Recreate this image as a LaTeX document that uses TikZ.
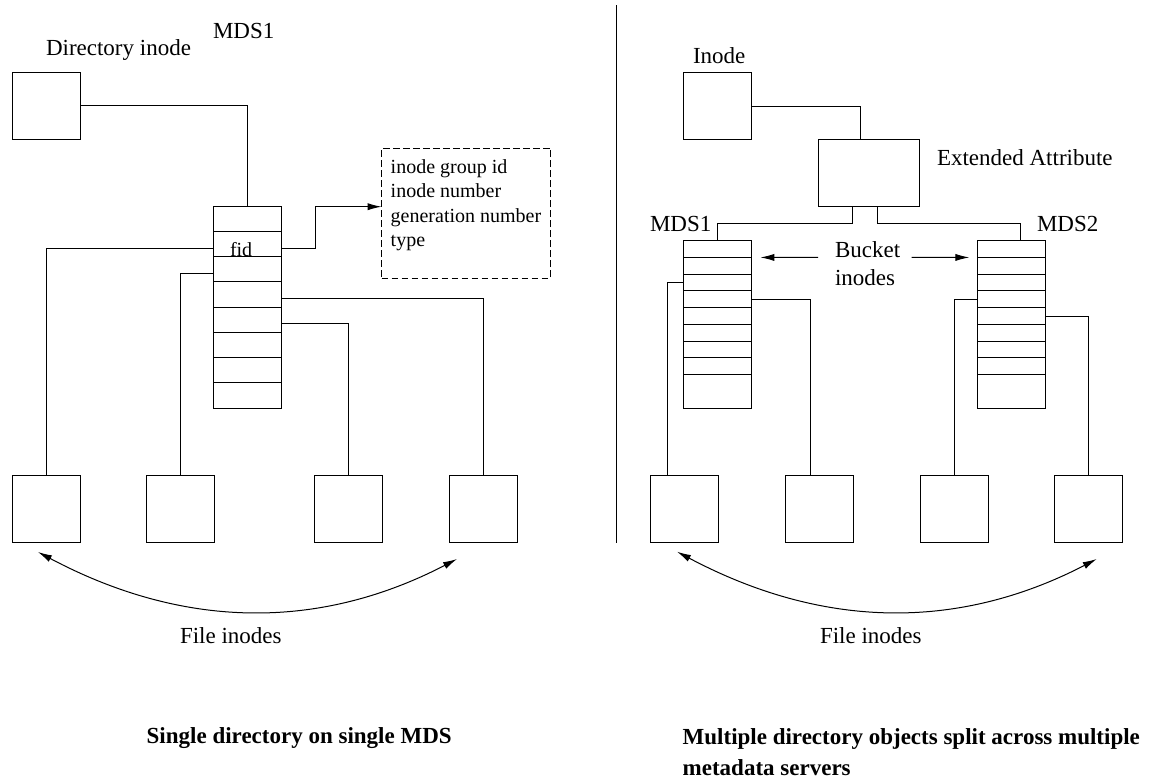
\documentclass[tikz,border=0pt]{standalone}
\usepackage{fontspec}
\setmainfont{Liberation Serif}
\usetikzlibrary{arrows.meta}
\begin{document}
\begin{tikzpicture}[x=0.5pt,y=-0.5pt, line width=0.5pt,
  every node/.style={font=\fontsize{11.5}{14}\selectfont, inner sep=0pt, outer sep=0pt},
  box/.style={draw, minimum width=34pt, minimum height=33.5pt},
  eabox/.style={draw, minimum width=50.3pt, minimum height=33.7pt},
  lrow/.style={draw, minimum width=34pt, minimum height=12.625pt},
  rrow/.style={draw, minimum width=34pt, minimum height=8.375pt},
  rlast/.style={draw, minimum width=34pt, minimum height=16.8pt},
  infobox/.style={draw, dashed, dash pattern=on 3.3pt off 1.7pt, minimum width=84.5pt, minimum height=65pt},
  lbl/.style={anchor=base west},
  small/.style={anchor=base west, font=\fontsize{10}{12}\selectfont},
  ttl/.style={anchor=base west, font=\fontsize{11.5}{14}\selectfont\bfseries},
  arr/.style={-{Latex[length=7pt,width=3.6pt]}},
  darr/.style={{Latex[length=7pt,width=3.6pt]}-{Latex[length=7pt,width=3.6pt]}},
]
\useasboundingbox (0,0) rectangle (1159,778);

% ---------------- left panel ----------------
\node[box] (dir) at (46,105.5) {};
\node[lbl] (dirlbl) at (46,55) {Directory inode};
\node[lbl] (mdsL) at (213,38.5) {MDS1};

\foreach \i in {1,...,8}
  \node[lrow] (L\i) at (247,{206+25.25*(\i-0.5)}) {};
\node[small] (fid) at (230,256.7) {fid};

\node[infobox] (info) at (466,213) {};
\node[small] (info1) at (390.7,173.3) {inode group id};
\node[small] (info2) at (390.7,197.8) {inode number};
\node[small] (info3) at (390.7,222.3) {generation number};
\node[small] (info4) at (390.7,246.8) {type};

\node[box] (F1) at (46,509) {};
\node[box] (F2) at (180.5,509) {};
\node[box] (F3) at (348.5,509) {};
\node[box] (F4) at (483,509) {};

\draw (dir.east) -| (L1.north);
\draw ([yshift=-2.15pt]L2.west) -| (F1.north);
\draw ([yshift=-2.15pt]L3.west) -| (F2.north);
\draw ([yshift=-2.15pt]L4.east) -| (F4.north);
\draw ([yshift=-2.15pt]L5.east) -| (F3.north);
\coordinate (fidbend) at (315,206.7);
\draw[arr] ([yshift=-2.15pt]L2.east) -| (fidbend) -- (fidbend -| info.west);

\coordinate (fl1) at (38,552);
\coordinate (fl2) at (457,559);
\draw[darr] (fl1) .. controls (185,630) and (320,630) .. (fl2);
\node[lbl] (filesL) at (180,643) {File inodes};
\node[ttl] (titleL) at (146.7,743) {Single directory on single MDS};

% divider
\coordinate (divtop) at (616.5,5);
\coordinate (divbot) at (616.5,543);
\draw (divtop) -- (divbot);

% ---------------- right panel ----------------
\node[box] (inode) at (717.7,106) {};
\node[lbl] (inodelbl) at (693,63) {Inode};
\node[eabox] (ea) at (869,173) {};
\node[lbl] (ealbl) at (937,165) {Extended Attribute};

\foreach \i in {1,...,8} {
  \node[rrow] (A\i) at (717.7,{240.7+16.75*(\i-0.5)}) {};
  \node[rrow] (B\i) at (1011.7,{240.7+16.75*(\i-0.5)}) {};
}
\node[rlast] (A9) at (717.7,391.5) {};
\node[rlast] (B9) at (1011.7,391.5) {};
\node[lbl] (mdsA) at (650,231.7) {MDS1};
\node[lbl] (mdsB) at (1037,231.7) {MDS2};

\node[lbl] (bucket1) at (835,257.3) {Bucket};
\node[lbl] (bucket2) at (835,285) {inodes};
\coordinate (bl) at (818,257.3);
\coordinate (br) at (911.7,257.3);
\draw[arr] (bl) -- ([xshift=4.35pt]A1.south east);
\draw[arr] (br) -- ([xshift=-4.2pt]B1.south west);

\node[box] (G1) at (684.2,509) {};
\node[box] (G2) at (819,509) {};
\node[box] (G3) at (954,509) {};
\node[box] (G4) at (1088.8,509) {};

\draw (inode.east) -| ([xshift=-4.35pt]ea.north);
\draw ([xshift=-8.35pt]ea.south) -- ++(0,16.6) -| (A1.north);
\draw ([xshift=4pt]ea.south) -- ++(0,16.6) -| ([xshift=4.15pt]B1.north);
\draw (A3.west) -| ([xshift=-8.45pt]G1.north);
\draw (A4.east) -| ([xshift=-4.25pt]G2.north);
\draw (B4.west) -| (G3.north);
\draw (B5.east) -| (G4.north);

\coordinate (fr1) at (677,551.7);
\coordinate (fr2) at (1096.7,559);
\draw[darr] (fr1) .. controls (824.7,630) and (959.7,630) .. (fr2);
\node[lbl] (filesR) at (820,643) {File inodes};
\node[ttl] (titleR1) at (682.7,744) {Multiple directory objects split across multiple};
\node[ttl] (titleR2) at (682.7,775) {metadata servers};
\end{tikzpicture}
\end{document}
